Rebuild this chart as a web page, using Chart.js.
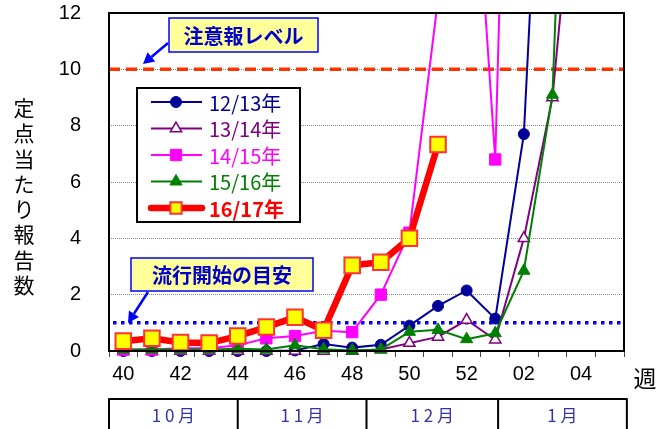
<!DOCTYPE html>
<html>
<head>
<meta charset="utf-8">
<script src="https://cdn.jsdelivr.net/npm/chart.js@4/dist/chart.umd.min.js"></script>
<style>
  body { margin: 0; background: #fff; }
  #wrap { width: 664px; height: 429px; position: relative; }
</style>
</head>
<body>
<div id="wrap"><canvas id="myChart" width="664" height="429"></canvas></div>
<script>
// week numbers on the x axis
const weeks = ['40','41','42','43','44','45','46','47','48','49','50','51','52','01','02','03','04','05'];
const yTicks = [0, 2, 4, 6, 8, 10, 12];
const months = ['10月', '11月', '12月', '1月'];

// reports per sentinel, by season (values above 12 run off the top of the plot)
const s1213 = [0, 0, 0, 0, 0, 0, 0.02, 0.25, 0.12, 0.22, 0.9, 1.6, 2.15, 1.15, 7.7, 28, null, null];
const s1314 = [0, 0, 0, 0, 0, 0, 0, 0, 0, 0.05, 0.28, 0.5, 1.1, 0.4, 4.0, 9.0, 19.7, null];
const s1415 = [0.05, 0.05, 0.1, 0.1, 0.2, 0.45, 0.53, 0.72, 0.67, 2.0, 4.2, 12.5, 21.9, 6.8, 44, null, null, null];
const s1516 = [0.05, 0.05, 0.05, 0.05, 0.08, 0.05, 0.2, 0.06, 0.02, 0.05, 0.68, 0.75, 0.42, 0.63, 2.85, 9.1, 36, null];
const s1617 = [0.35, 0.45, 0.3, 0.28, 0.53, 0.85, 1.2, 0.74, 3.04, 3.15, 4.0, 7.33, null, null, null, null, null, null];

const alertLevel = 10;     // 注意報レベル
const epidemicLevel = 1.0; // 流行開始の目安

const jp = '"Noto Sans CJK JP", sans-serif';
const num = '"Liberation Sans", Arial, sans-serif';

const clip = { left: 12, right: 12, top: 0, bottom: 12 };

const datasets = [
  { label: '12/13年', data: s1213, borderColor: '#000099', backgroundColor: '#000099', borderWidth: 2,
    pointStyle: 'circle', pointRadius: 5.5, pointBorderWidth: 1, clip: clip, order: 5 },
  { label: '13/14年', data: s1314, borderColor: '#800080', backgroundColor: '#ffffff', borderWidth: 2,
    pointStyle: 'triangle', pointRadius: 6.5, pointBorderWidth: 1.5, clip: clip, order: 4 },
  { label: '14/15年', data: s1415, borderColor: '#ff00ff', backgroundColor: '#ff00ff', borderWidth: 2,
    pointStyle: 'rect', pointRadius: 8, pointBorderWidth: 1, clip: clip, order: 3 },
  { label: '15/16年', data: s1516, borderColor: '#008000', backgroundColor: '#008000', borderWidth: 2,
    pointStyle: 'triangle', pointRadius: 7, pointBorderWidth: 1, clip: clip, order: 2 },
  { label: '16/17年', data: s1617, borderColor: '#ff0000', backgroundColor: '#ffff00', borderWidth: 6.5,
    pointStyle: 'rect', pointRadius: 11, pointBorderWidth: 2, pointBorderColor: '#ff3333', clip: clip, order: 1 }
];

function arrow(ctx, x1, y1, x2, y2) {
  const a = Math.atan2(y2 - y1, x2 - x1);
  const hl = 11, hw = 6;
  const bx = x2 - hl * Math.cos(a), by = y2 - hl * Math.sin(a);
  ctx.strokeStyle = '#0000ff';
  ctx.fillStyle = '#0000ff';
  ctx.lineWidth = 2.5;
  ctx.beginPath();
  ctx.moveTo(x1, y1);
  ctx.lineTo(bx, by);
  ctx.stroke();
  ctx.beginPath();
  ctx.moveTo(x2, y2);
  ctx.lineTo(bx + hw * Math.sin(a), by - hw * Math.cos(a));
  ctx.lineTo(bx - hw * Math.sin(a), by + hw * Math.cos(a));
  ctx.closePath();
  ctx.fill();
}

function noteBox(ctx, x, y, w, h, text) {
  ctx.fillStyle = '#ffff99';
  ctx.fillRect(x, y, w, h);
  ctx.strokeStyle = '#0000ff';
  ctx.lineWidth = 1.5;
  ctx.strokeRect(x, y, w, h);
  ctx.fillStyle = '#0000cc';
  ctx.font = 'bold 20px ' + jp;
  ctx.textAlign = 'center';
  ctx.textBaseline = 'middle';
  ctx.fillText(text, x + w / 2, y + h / 2 + 1);
}

const overlay = {
  id: 'overlay',
  beforeDatasetsDraw(chart) {
    const { ctx, chartArea: ca, scales: { y } } = chart;
    ctx.save();
    // alert level line
    ctx.strokeStyle = '#ff3300';
    ctx.lineWidth = 3.5;
    ctx.setLineDash([11, 6]);
    ctx.beginPath();
    ctx.moveTo(ca.left, y.getPixelForValue(alertLevel));
    ctx.lineTo(ca.right, y.getPixelForValue(alertLevel));
    ctx.stroke();
    // epidemic start line
    ctx.strokeStyle = '#0000ff';
    ctx.lineWidth = 3.5;
    ctx.setLineDash([3.5, 4.5]);
    ctx.beginPath();
    ctx.moveTo(ca.left + 4, y.getPixelForValue(epidemicLevel));
    ctx.lineTo(ca.right, y.getPixelForValue(epidemicLevel));
    ctx.stroke();
    ctx.restore();
  },
  afterDraw(chart) {
    const { ctx, chartArea: ca } = chart;
    ctx.save();

    // plot frame
    ctx.strokeStyle = '#000';
    ctx.lineWidth = 2;
    ctx.strokeRect(ca.left, ca.top, ca.right - ca.left, ca.bottom - ca.top);

    // notes
    noteBox(ctx, 169, 18, 149, 34, '注意報レベル');
    arrow(ctx, 168, 43, 143, 64);
    noteBox(ctx, 131, 258, 182, 33, '流行開始の目安');
    arrow(ctx, 148, 292, 128, 323);

    // legend
    ctx.fillStyle = '#fff';
    ctx.fillRect(137, 88, 163, 134);
    ctx.strokeStyle = '#000';
    ctx.lineWidth = 2;
    ctx.strokeRect(137, 88, 163, 134);
    datasets.forEach((ds, i) => {
      const ly = 102 + i * 26.5;
      ctx.strokeStyle = ds.borderColor;
      ctx.lineWidth = ds.borderWidth;
      ctx.lineCap = i === 4 ? 'round' : 'butt';
      ctx.beginPath();
      ctx.moveTo(151, ly);
      ctx.lineTo(202, ly);
      ctx.stroke();
      ctx.fillStyle = ds.backgroundColor;
      ctx.strokeStyle = ds.pointBorderColor || ds.borderColor;
      ctx.lineWidth = ds.pointBorderWidth;
      Chart.helpers.drawPoint(ctx, { pointStyle: ds.pointStyle, radius: i === 4 ? 8 : ds.pointRadius, rotation: 0, borderWidth: ds.pointBorderWidth }, 176, ly);
      ctx.fillStyle = ds.borderColor;
      ctx.font = (i === 4 ? 'bold ' : '') + '20px ' + jp;
      ctx.textAlign = 'left';
      ctx.textBaseline = 'middle';
      ctx.fillText(ds.label, 209, ly + 1);
    });

    // y axis title, stacked vertically
    ctx.fillStyle = '#000';
    ctx.font = '21px ' + jp;
    ctx.textAlign = 'center';
    ctx.textBaseline = 'middle';
    '定点当たり報告数'.split('').forEach((c, i) => ctx.fillText(c, 24, 108 + i * 25.3));

    // x axis unit
    ctx.font = '23px ' + jp;
    ctx.fillText('週', 645, 378);

    // month table
    const step = (ca.right - ca.left) / weeks.length;
    const edges = [0, 4.5, 9, 13.6, 18.1].map(v => ca.left + v * step);
    const top = 399;
    ctx.strokeStyle = '#000';
    ctx.lineWidth = 2;
    ctx.beginPath();
    ctx.moveTo(edges[0], top);
    ctx.lineTo(edges[4], top);
    edges.forEach(ex => { ctx.moveTo(ex, top); ctx.lineTo(ex, 440); });
    ctx.stroke();
    ctx.fillStyle = '#3333aa';
    ctx.font = '17px ' + jp;
    months.forEach((m, i) => {
      ctx.fillText(m.split('').join(' '), (edges[i] + edges[i + 1]) / 2, 416);
    });
    ctx.restore();
  }
};

new Chart(document.getElementById('myChart'), {
  type: 'line',
  data: { labels: weeks, datasets: datasets },
  options: {
    responsive: false,
    animation: false,
    layout: { padding: { left: 0, top: 12, right: 40, bottom: 38 } },
    plugins: { legend: { display: false }, tooltip: { enabled: false } },
    elements: { line: { tension: 0 } },
    scales: {
      x: {
        offset: true,
        grid: { offset: true, drawOnChartArea: false, tickLength: 6, color: '#444', lineWidth: 1 },
        border: { display: false },
        ticks: {
          autoSkip: false, maxRotation: 0, padding: 5, color: '#000',
          font: { family: num, size: 20 },
          callback: (v, i) => (i % 2 === 0 && i < 17 ? weeks[i] : '')
        },
        afterFit: s => { s.height = 40; s.paddingLeft = 0; s.paddingRight = 0; }
      },
      y: {
        min: 0, max: 12,
        afterBuildTicks: s => { s.ticks = yTicks.map(v => ({ value: v })); },
        grid: { drawTicks: false, color: '#888', lineWidth: 1 },
        border: { display: false, dash: [1, 1] },
        ticks: { padding: 28, color: '#000', font: { family: num, size: 20 } },
        afterFit: s => { s.width = 109; s.paddingTop = 0; s.paddingBottom = 0; }
      }
    }
  },
  plugins: [overlay]
});
</script>
</body>
</html>
